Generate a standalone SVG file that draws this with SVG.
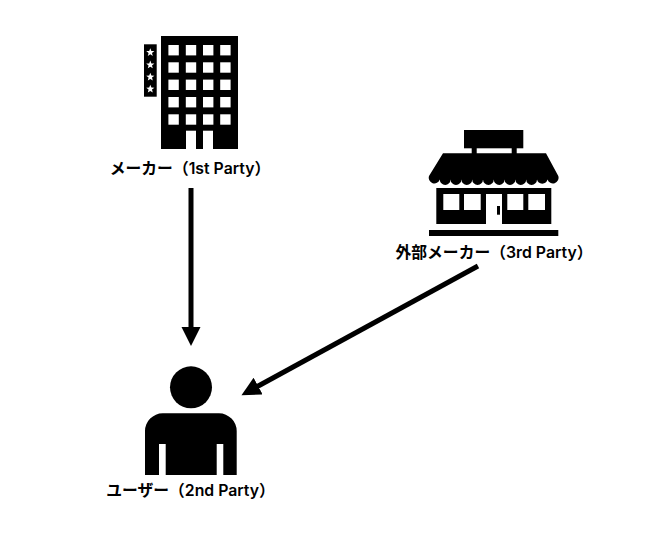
<svg xmlns="http://www.w3.org/2000/svg" width="650" height="534" viewBox="0 0 650 534">
<style>
.bg{fill:#fff}
.k{fill:#000}
.w{fill:#fff}
.lbl{font-family:"Inter","Noto Sans CJK JP",sans-serif;font-size:15.8px;font-weight:600;fill:#000;text-anchor:middle}
.conn{stroke:#000;stroke-width:5;fill:none}
</style>
<defs>
<polygon id="star" class="w" points="0,-4.2 1.1,-1.4 4.1,-1.3 1.7,0.6 2.5,3.5 0,1.9 -2.5,3.5 -1.7,0.6 -4.1,-1.3 -1.1,-1.4"/>
<rect id="win" class="w" width="10.4" height="10.4"/>
<marker id="ah" markerUnits="userSpaceOnUse" markerWidth="20" markerHeight="20" refX="3" refY="9.5" orient="auto"><path d="M0,0 L19,9.5 L0,19 Z" fill="#000"/></marker>
</defs>
<rect class="bg" width="650" height="534"/>
<g id="connectors">
<line class="conn" x1="191" y1="188" x2="191" y2="330" marker-end="url(#ah)"/>
<line class="conn" x1="478" y1="266" x2="255.5" y2="387.5" marker-end="url(#ah)"/>
</g>
<g id="maker">
<rect class="k" x="161" y="36" width="77" height="113"/>
<rect class="k" x="144" y="44.3" width="12.7" height="52.4"/>
<use href="#star" x="150.3" y="52.4"/><use href="#star" x="150.3" y="64.8"/><use href="#star" x="150.3" y="77"/><use href="#star" x="150.3" y="89"/>
<use href="#win" x="168.4" y="45"/><use href="#win" x="185.8" y="45"/><use href="#win" x="203" y="45"/><use href="#win" x="220.2" y="45"/>
<use href="#win" x="168.4" y="62.3"/><use href="#win" x="185.8" y="62.3"/><use href="#win" x="203" y="62.3"/><use href="#win" x="220.2" y="62.3"/>
<use href="#win" x="168.4" y="79.6"/><use href="#win" x="185.8" y="79.6"/><use href="#win" x="203" y="79.6"/><use href="#win" x="220.2" y="79.6"/>
<use href="#win" x="168.4" y="97"/><use href="#win" x="185.8" y="97"/><use href="#win" x="203" y="97"/><use href="#win" x="220.2" y="97"/>
<use href="#win" x="168.4" y="114.3"/><use href="#win" x="185.8" y="114.3"/><use href="#win" x="203" y="114.3"/><use href="#win" x="220.2" y="114.3"/>
<rect class="w" x="186" y="130.7" width="10" height="18.3"/>
<rect class="w" x="203" y="130.7" width="10" height="18.3"/>
<text class="lbl" x="190" y="174">メーカー（1st Party）</text>
</g>
<g id="external-maker">
<rect class="k" x="464" y="130" width="59.3" height="18.3"/>
<rect class="k" x="471.7" y="148" width="5" height="6"/>
<rect class="k" x="511.7" y="148" width="5" height="6"/>
<path class="k" d="M443,153.3 H546 L558.3,176 A5.4,5.4 0 0 1 547.5,179.5 A5.4,5.4 0 0 1 537,179.5 A5.4,5.4 0 0 1 526.2,179.5 A5.4,5.4 0 0 1 515.4,179.5 A5.4,5.4 0 0 1 504.6,179.5 A5.4,5.4 0 0 1 493.8,179.5 A5.4,5.4 0 0 1 483,179.5 A5.4,5.4 0 0 1 472.2,179.5 A5.4,5.4 0 0 1 461.4,179.5 A5.4,5.4 0 0 1 450.6,179.5 A5.4,5.4 0 0 1 439.8,179.5 A5.4,5.4 0 0 1 429,176 Z"/>
<rect class="k" x="436.3" y="188" width="115" height="36"/>
<rect class="w" x="443.3" y="194" width="16" height="16"/>
<rect class="w" x="464" y="194" width="16.7" height="16"/>
<rect class="w" x="507.3" y="194" width="16" height="16"/>
<rect class="w" x="528.3" y="194" width="16.7" height="16"/>
<rect class="w" x="486" y="194" width="16" height="30"/>
<rect class="k" x="497" y="206" width="3" height="8.7"/>
<rect class="k" x="429" y="230" width="129.3" height="6"/>
<text class="lbl" x="494" y="258">外部メーカー（3rd Party）</text>
</g>
<g id="user">
<circle class="k" cx="191" cy="387.3" r="21"/>
<path class="k" d="M145,475 V431 A17.7,17.7 0 0 1 162.7,413.3 H219 A17.7,17.7 0 0 1 236.7,431 V475 H223.3 V444 H216.7 V475 H165.7 V444 H159 V475 Z"/>
<text class="lbl" x="190.5" y="496">ユーザー（2nd Party）</text>
</g>
</svg>
